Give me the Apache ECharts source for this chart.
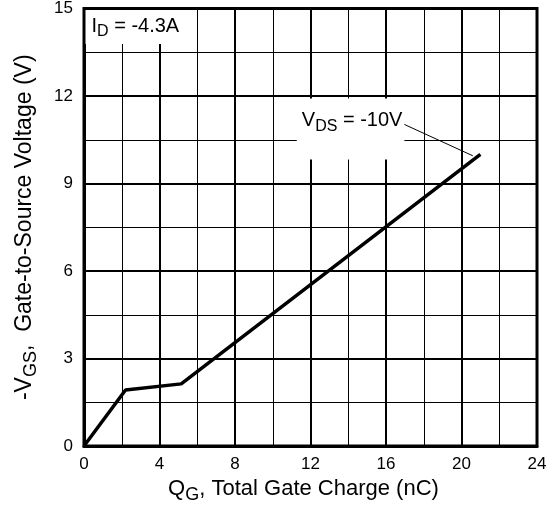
<!DOCTYPE html>
<html>
<head>
<meta charset="utf-8">
<script src="https://cdn.jsdelivr.net/npm/echarts@6/dist/echarts.min.js"></script>
<style>
html,body{margin:0;padding:0;background:#fff;}
#chart{width:554px;height:510px;}
</style>
</head>
<body>
<div id="chart"></div>
<script>
// Gate charge curve
const qg = [0, 2.2, 5.15, 21];      // nC
const vgs = [0, 1.92, 2.13, 10];    // -VGS (V)

// Axis ranges / ticks
const xMin = 0, xMax = 24, xStep = 4;
const yMin = 0, yMax = 15, yStep = 3;

// Annotations (data coordinates)
const idText = '{m|I}{s|D}{m| = -4.3A}';
const idAnchor = [0, 15];
const vdsText = '{m|V}{s|DS}{m| = -10V}';
const vdsAnchor = [11.3, 11.9];
const leaderFrom = [16.72, 11.1];
const leaderTo = [20.6, 9.95];

const FONT = '"Liberation Sans", Arial, sans-serif';
const richMain = {fontSize: 20, lineHeight: 28, fontFamily: FONT, color: '#000', verticalAlign: 'middle'};
const richSub = {fontSize: 16, lineHeight: 16, fontFamily: FONT, color: '#000', verticalAlign: 'bottom'};
const xMain = {fontSize: 22, lineHeight: 30, fontFamily: FONT, color: '#000', verticalAlign: 'middle'};
const xSub = {fontSize: 18, lineHeight: 16, fontFamily: FONT, color: '#000', verticalAlign: 'bottom'};
const yMain = {fontSize: 23, lineHeight: 30, fontFamily: FONT, color: '#000', verticalAlign: 'middle'};
const ySub = {fontSize: 18, lineHeight: 16, fontFamily: FONT, color: '#000', verticalAlign: 'bottom'};

const chart = echarts.init(document.getElementById('chart'), null, {renderer: 'canvas'});

const lineData = qg.map((x, i) => [x, vgs[i]]);

const option = {
  animation: false,
  backgroundColor: '#fff',
  grid: {
    left: 84, right: 17, top: 6, bottom: 64,
    show: true, borderColor: '#000', borderWidth: 3, backgroundColor: 'transparent'
  },
  xAxis: {
    type: 'value', min: xMin, max: xMax, interval: xStep,
    name: '{m|Q}{s|G}{m|, Total Gate Charge (nC)}',
    nameLocation: 'middle', nameGap: 28,
    nameTextStyle: {rich: {m: xMain, s: xSub}, padding: [0, 14, 0, 0]},
    axisLine: {show: true, lineStyle: {color: '#000', width: 3}},
    axisTick: {show: false},
    axisLabel: {fontSize: 17, fontFamily: FONT, color: '#000', margin: 10},
    splitLine: {show: true, lineStyle: {color: '#000', width: 2}},
    minorTick: {show: false, splitNumber: 2},
    minorSplitLine: {show: true, lineStyle: {color: '#000', width: 1}}
  },
  yAxis: {
    type: 'value', min: yMin, max: yMax, interval: yStep,
    name: '{m|-V}{s|GS}{m|,  Gate-to-Source Voltage (V)}',
    nameLocation: 'middle', nameGap: 44, nameRotate: 90,
    nameTextStyle: {rich: {m: yMain, s: ySub}},
    axisLine: {show: true, lineStyle: {color: '#000', width: 3}},
    axisTick: {show: false},
    axisLabel: {fontSize: 17, fontFamily: FONT, color: '#000', margin: 11},
    splitLine: {show: true, lineStyle: {color: '#000', width: 2}},
    minorTick: {show: false, splitNumber: 2},
    minorSplitLine: {show: true, lineStyle: {color: '#000', width: 1}}
  },
  series: [{
    type: 'line',
    data: lineData,
    symbol: 'none',
    lineStyle: {color: '#000', width: 3.5},
    z: 3,
    markLine: {
      silent: true,
      symbol: ['none', 'none'],
      label: {show: false},
      lineStyle: {color: '#000', width: 1, type: 'solid'},
      data: [[{coord: leaderFrom}, {coord: leaderTo}]]
    },
    markPoint: {
      silent: true,
      symbol: 'rect',
      symbolSize: 1,
      itemStyle: {color: 'rgba(0,0,0,0)'},
      data: [
        {
          coord: idAnchor,
          label: {
            show: true, formatter: idText, position: [2, 2],
            align: 'left', verticalAlign: 'top',
            backgroundColor: '#fff', padding: [2, 8, 4, 6], width: 80,
            rich: {m: richMain, s: richSub}
          }
        },
        {
          coord: vdsAnchor,
          label: {
            show: true, formatter: vdsText, position: [0, 0],
            align: 'left', verticalAlign: 'top',
            backgroundColor: '#fff', padding: [8, 2, 25, 5],
            rich: {m: richMain, s: richSub}
          }
        }
      ]
    }
  }]
};

chart.setOption(option);
</script>
</body>
</html>
